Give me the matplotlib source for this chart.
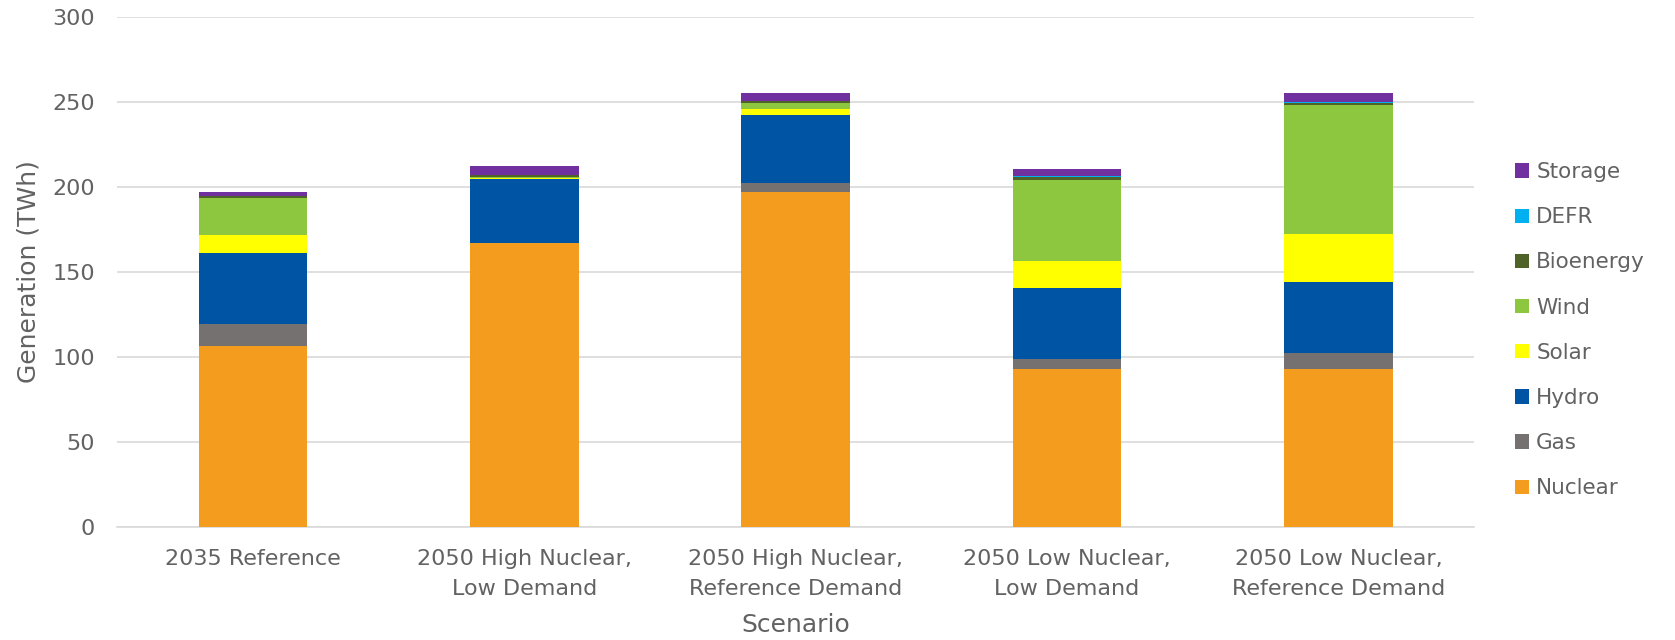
import numpy as np
import matplotlib.pyplot as plt

scenarios = ["2035 Reference", "2050 High Nuclear,\nLow Demand", "2050 High Nuclear,\nReference Demand",
             "2050 Low Nuclear,\nLow Demand", "2050 Low Nuclear,\nReference Demand"]

# generation by source (TWh), bottom to top
nuclear = [106.3, 166.9, 197.1, 92.8, 92.9]
gas = [12.9, 0.0, 5.3, 5.8, 9.5]
hydro = [41.8, 37.6, 40.0, 42.0, 41.7]
solar = [10.6, 0.8, 3.5, 15.7, 28.2]
wind = [21.9, 0.3, 3.1, 47.6, 75.9]
bioenergy = [1.2, 1.4, 1.4, 2.0, 1.2]
defr = [0.0, 0.0, 0.0, 0.6, 0.6]
storage = [2.2, 4.9, 4.9, 3.9, 5.3]

series = [("Nuclear", nuclear, "#F39C1E"), ("Gas", gas, "#767171"), ("Hydro", hydro, "#0054A4"),
          ("Solar", solar, "#FFFF00"), ("Wind", wind, "#8DC63F"), ("Bioenergy", bioenergy, "#4F6228"),
          ("DEFR", defr, "#00B0F0"), ("Storage", storage, "#7030A0")]

plt.rcParams['font.family'] = ['DejaVu Sans']
txt = "#626262"

fig = plt.figure(figsize=(16.75, 6.4), dpi=100)
ax = fig.add_axes([0.070, 0.177, 0.810, 0.797])

x = np.arange(len(scenarios))
bottom = np.zeros(len(scenarios))
handles = []
for name, vals, col in series:
    b = ax.bar(x, vals, 0.40, bottom=bottom, color=col, label=name, zorder=3)
    handles.append(b)
    bottom += np.array(vals)

ax.set_ylim(0, 300)
ax.set_xlim(-0.5, len(scenarios) - 0.5)
ax.set_yticks(range(0, 301, 50))
ax.grid(axis='y', color='#D9D9D9', linewidth=1.2, zorder=0)
for s in ['top', 'right', 'left']:
    ax.spines[s].set_visible(False)
ax.spines['bottom'].set_color('#D9D9D9')
ax.spines['bottom'].set_linewidth(1.2)
ax.tick_params(axis='y', length=0, colors=txt, labelsize=16, pad=16)
ax.tick_params(axis='x', length=0, colors=txt, labelsize=16, pad=16)
ax.set_xticks(x)
ax.set_xticklabels(scenarios, fontsize=16, color=txt, linespacing=1.6)
ax.set_ylabel("Generation (TWh)", fontsize=18, color=txt)
ax.set_xlabel("Scenario", fontsize=18, color=txt)
ax.yaxis.set_label_coords(-0.0565, 0.5)
ax.xaxis.set_label_coords(0.5, -0.17)

fig.legend(handles[::-1], [s[0] for s in series][::-1], loc='center left',
           bbox_to_anchor=(0.893, 0.484), frameon=False, fontsize=15.5,
           labelcolor=txt, handlelength=0.65, handleheight=0.65, handletextpad=0.33,
           labelspacing=1.17)

fig.savefig("out.png", dpi=100)
